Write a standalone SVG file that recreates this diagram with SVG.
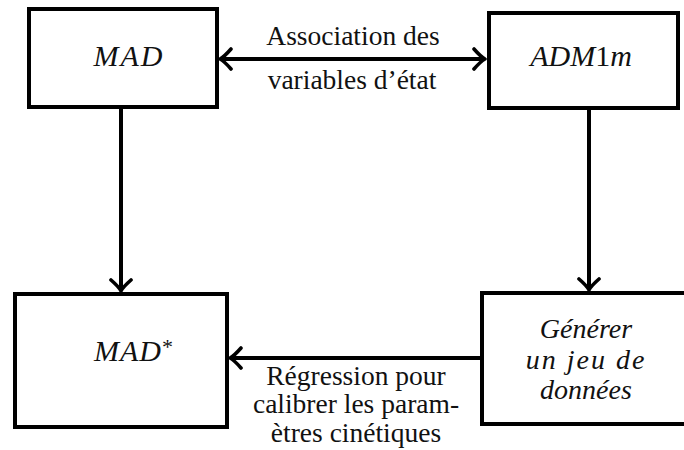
<svg xmlns="http://www.w3.org/2000/svg" width="684" height="450" viewBox="0 0 684 450">
<style>
.box{fill:#fff;stroke:#000;stroke-width:4}
.edge{stroke:#000;stroke-width:4;fill:none}
.math{font-family:'Liberation Serif','DejaVu Serif','Times New Roman',serif;font-style:italic;font-size:30px;fill:#111;text-anchor:middle}
.lab{font-family:'Liberation Serif','DejaVu Serif','Times New Roman',serif;font-size:27.5px;fill:#111;text-anchor:middle}
.it{font-family:'Liberation Serif','DejaVu Serif','Times New Roman',serif;font-style:italic;font-size:28px;fill:#111;text-anchor:middle}
</style>
<defs>
<marker id="arr" viewBox="-13 -12 15 24" refX="0" refY="0" markerWidth="15" markerHeight="24" markerUnits="userSpaceOnUse" orient="auto-start-reverse">
<path d="M-11,-10 Q-4,-2 0,0 Q-4,2 -11,10" fill="none" stroke="#000" stroke-width="3.6" stroke-linecap="round" stroke-linejoin="round"/>
</marker>
</defs>
<rect width="684" height="450" fill="#fff"/>
<g id="connectors">
<line class="edge" x1="220" y1="59" x2="485" y2="59" marker-start="url(#arr)" marker-end="url(#arr)"/>
<line class="edge" x1="121" y1="107" x2="121" y2="291" marker-end="url(#arr)"/>
<line class="edge" x1="589" y1="108" x2="589" y2="290" marker-end="url(#arr)"/>
<line class="edge" x1="482" y1="358" x2="230" y2="358" marker-end="url(#arr)"/>
<text class="lab" x="353" y="45">Association des</text>
<text class="lab" x="352" y="89">variables d’état</text>
<text class="lab" x="356" y="385">Régression pour</text>
<text class="lab" x="356" y="413">calibrer les param-</text>
<text class="lab" x="356" y="442">ètres cinétiques</text>
</g>
<g id="node-mad">
<rect class="box" x="29" y="9" width="188" height="98"/>
<text class="math" x="129" y="66" letter-spacing="2">MAD</text>
</g>
<g id="node-adm1m">
<rect class="box" x="489" y="13" width="189" height="95"/>
<text class="math" x="581" y="66">ADM<tspan font-style="normal">1</tspan>m</text>
</g>
<g id="node-madstar">
<rect class="box" x="15" y="294" width="212" height="133"/>
<text class="math" x="134" y="361" letter-spacing="1">MAD<tspan font-style="normal" font-size="22" dy="-7">*</tspan></text>
</g>
<g id="node-generer">
<rect class="box" x="482" y="293" width="210" height="131"/>
<text class="it" x="586" y="338">Générer</text>
<text class="it" x="586" y="369" letter-spacing="2">un jeu de</text>
<text class="it" x="586" y="399">données</text>
</g>
</svg>
